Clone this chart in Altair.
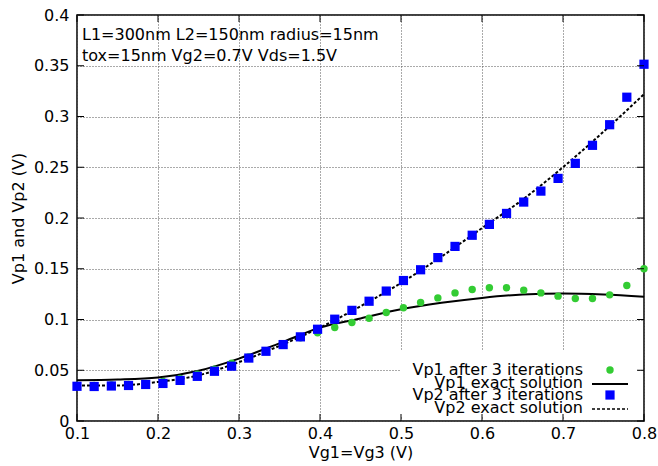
import altair as alt
import pandas as pd

# Sample gate voltages Vg1=Vg3 (V)
vg = [0.1, 0.1212, 0.1424, 0.1636, 0.1848, 0.2061, 0.2273, 0.2485, 0.2697, 0.2909,
      0.3121, 0.3333, 0.3545, 0.3758, 0.3970, 0.4182, 0.4394, 0.4606, 0.4818, 0.5030,
      0.5242, 0.5455, 0.5667, 0.5879, 0.6091, 0.6303, 0.6515, 0.6727, 0.6939, 0.7152,
      0.7364, 0.7576, 0.7788, 0.8]

# Vp1 after 3 iterations
vp1_iter = [0.035, 0.035, 0.0355, 0.036, 0.037, 0.039, 0.042, 0.046, 0.051, 0.057,
            0.063, 0.069, 0.0755, 0.082, 0.087, 0.0921, 0.097, 0.1013, 0.1069, 0.1115,
            0.1168, 0.1213, 0.1262, 0.1296, 0.1312, 0.1312, 0.1289, 0.1262, 0.123, 0.1207,
            0.1207, 0.1243, 0.1335, 0.150]

# Vp2 after 3 iterations
vp2_iter = [0.0342, 0.034, 0.0345, 0.035, 0.036, 0.037, 0.040, 0.044, 0.049, 0.054,
            0.062, 0.0687, 0.0753, 0.0829, 0.0904, 0.1003, 0.109, 0.118, 0.128, 0.1384,
            0.149, 0.161, 0.172, 0.183, 0.1937, 0.2045, 0.2157, 0.2265, 0.239, 0.2538,
            0.2716, 0.2919, 0.319, 0.3515]

# Exact solutions
vg_exact = [0.1, 0.15, 0.2, 0.25, 0.3, 0.35, 0.4, 0.45, 0.5, 0.55, 0.6, 0.65, 0.7, 0.75, 0.8]
vp1_exact = [0.0401, 0.0408, 0.0428, 0.0495, 0.0615, 0.0765, 0.092, 0.101, 0.110, 0.1164,
             0.1213, 0.1246, 0.1256, 0.1246, 0.1223]
vp2_exact = [0.0349, 0.035, 0.0385, 0.045, 0.058, 0.074, 0.092, 0.113, 0.136, 0.162,
             0.19, 0.218, 0.25, 0.285, 0.322]

x_ticks = [0.1, 0.2, 0.3, 0.4, 0.5, 0.6, 0.7, 0.8]
y_ticks = [0, 0.05, 0.1, 0.15, 0.2, 0.25, 0.3, 0.35, 0.4]

legend_labels = ["Vp1 after 3 iterations", "Vp1 exact solution",
                 "Vp2 after 3 iterations", "Vp2 exact solution"]
info_lines = ["L1=300nm L2=150nm radius=15nm", "tox=15nm Vg2=0.7V Vds=1.5V"]

W, H = 567, 406
FONT = "DejaVu Sans"
GREEN = "#33cc33"
BLUE = "#0000ff"

pts = pd.DataFrame({"vg": vg, "vp1": vp1_iter, "vp2": vp2_iter})
exact = pd.DataFrame({"vg": vg_exact, "vp1": vp1_exact, "vp2": vp2_exact})
xt = pd.DataFrame({"vg": x_ticks})
yt = pd.DataFrame({"vp": y_ticks})
one = pd.DataFrame({"k": [0]})

xs = alt.Scale(domain=[0.1, 0.8], nice=False, zero=False)
ys = alt.Scale(domain=[0, 0.4], nice=False, zero=False)

X_TITLE = "Vg1=Vg3 (V)"
Y_TITLE = "Vp1 and Vp2 (V)"
axis_style = dict(grid=True, ticks=False, domain=False, labelFlush=False, labelOverlap=False,
                  labelFont=FONT, titleFont=FONT, labelFontSize=16, titleFontSize=16,
                  labelColor="black", titleColor="black", titleFontWeight="normal",
                  gridColor="#555555", gridDash=[1, 2], gridWidth=1, gridOpacity=1)
x_axis = alt.Axis(values=x_ticks, format=".1f", labelPadding=4,
                  titleX=W / 2, titleY=31, titleBaseline="middle", titleAnchor="middle",
                  **axis_style)
y_axis = alt.Axis(values=y_ticks, format=".2~f", labelPadding=8,
                  titleX=-59, titleY=H / 2, titleAngle=270, titleBaseline="middle",
                  titleAnchor="middle", **axis_style)


def xenc(field):
    return alt.X(f"{field}:Q", scale=xs, axis=x_axis, title=X_TITLE)


def yenc(field):
    return alt.Y(f"{field}:Q", scale=ys, axis=y_axis, title=Y_TITLE)


# inward tick marks on all four sides
tick_len = 7
ticks_left = alt.Chart(yt).mark_rule(color="black", strokeWidth=1).encode(
    y=yenc("vp"), x=alt.value(0), x2=alt.value(tick_len))
ticks_right = alt.Chart(yt).mark_rule(color="black", strokeWidth=1).encode(
    y=yenc("vp"), x=alt.value(W - tick_len), x2=alt.value(W))
ticks_bottom = alt.Chart(xt).mark_rule(color="black", strokeWidth=1).encode(
    x=xenc("vg"), y=alt.value(H), y2=alt.value(H - tick_len))
ticks_top = alt.Chart(xt).mark_rule(color="black", strokeWidth=1).encode(
    x=xenc("vg"), y=alt.value(0), y2=alt.value(tick_len))

line1 = alt.Chart(exact).mark_line(color="black", strokeWidth=2, interpolate="monotone").encode(
    x=xenc("vg"), y=yenc("vp1"))
line2 = alt.Chart(exact).mark_line(color="black", strokeWidth=2, strokeDash=[3, 2],
                                   interpolate="monotone").encode(
    x=xenc("vg"), y=yenc("vp2"))

dots1 = alt.Chart(pts).mark_point(shape="circle", filled=True, color=GREEN, size=55,
                                  opacity=1).encode(x=xenc("vg"), y=yenc("vp1"))
dots2 = alt.Chart(pts).mark_point(shape="square", filled=True, color=BLUE, size=85,
                                  opacity=1).encode(x=xenc("vg"), y=yenc("vp2"))

# key box
key_bg = alt.Chart(one).mark_rect(color="white").encode(
    x=alt.value(323), x2=alt.value(560), y=alt.value(336), y2=alt.value(401))

key_rows = [355, 368, 380, 393]
key_text = alt.layer(*[
    alt.Chart(one).mark_text(align="right", baseline="middle", fontSize=16, font=FONT,
                             color="black", text=lab).encode(
        x=alt.value(506), y=alt.value(yy))
    for lab, yy in zip(legend_labels, key_rows)
])
key_dot = alt.Chart(one).mark_point(shape="circle", filled=True, color=GREEN, size=55,
                                    opacity=1).encode(x=alt.value(533), y=alt.value(key_rows[0]))
key_solid = alt.Chart(one).mark_rule(color="black", strokeWidth=2).encode(
    x=alt.value(515), x2=alt.value(551), y=alt.value(key_rows[1] + 1))
key_sq = alt.Chart(one).mark_point(shape="square", filled=True, color=BLUE, size=85,
                                   opacity=1).encode(x=alt.value(533), y=alt.value(key_rows[2]))
key_dash = alt.Chart(one).mark_rule(color="black", strokeWidth=1.5, strokeDash=[3, 2]).encode(
    x=alt.value(515), x2=alt.value(551), y=alt.value(key_rows[3] + 1))

info = alt.layer(*[
    alt.Chart(one).mark_text(align="left", baseline="middle", fontSize=16, font=FONT,
                             color="black", text=t).encode(x=alt.value(5), y=alt.value(yy))
    for t, yy in zip(info_lines, [20, 41])
])

chart = alt.layer(
    line1, line2, dots1, dots2,
    key_bg, key_text, key_dot, key_solid, key_sq, key_dash,
    info, ticks_left, ticks_right, ticks_bottom, ticks_top,
).properties(
    width=W, height=H,
    background="white",
    autosize=alt.AutoSizeParams(type="none"),
    padding={"left": 77, "top": 15, "right": 14, "bottom": 45},
).configure_view(
    stroke="black", strokeWidth=1.5
)

chart.save("out.html", embed_options={"renderer": "svg", "actions": False})
